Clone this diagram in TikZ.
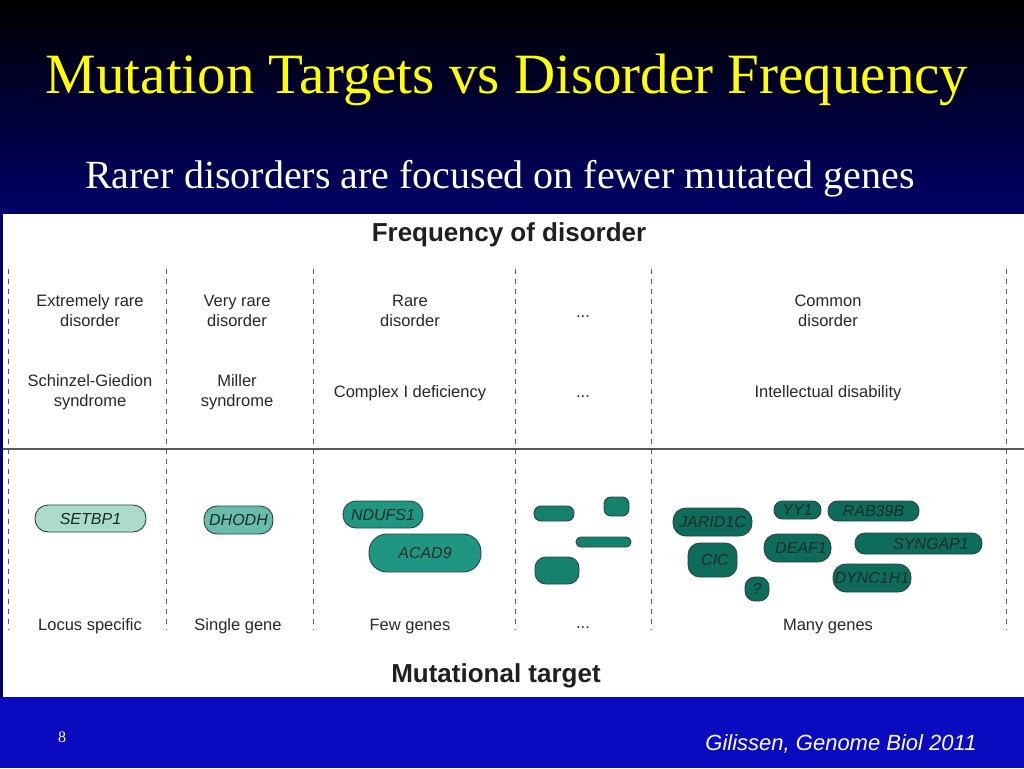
\documentclass[tikz,border=0pt]{standalone}
\usepackage{fontspec}
\setmainfont{Liberation Serif}
\setsansfont{Liberation Sans}
\definecolor{topnavy}{RGB}{0,0,104}
\definecolor{footblue}{RGB}{10,10,192}
\definecolor{titleyellow}{RGB}{255,255,0}
\definecolor{txtgray}{RGB}{40,40,40}
\definecolor{linegray}{RGB}{90,90,90}
\definecolor{pillborder}{RGB}{40,70,64}
\definecolor{genetxt}{RGB}{24,44,40}
\definecolor{gLight}{RGB}{172,218,205}
\definecolor{gMid}{RGB}{106,188,170}
\definecolor{gFew}{RGB}{30,150,130}
\definecolor{gDots}{RGB}{22,128,110}
\definecolor{gMany}{RGB}{14,108,92}
\tikzset{
  lbl/.style={font=\sffamily\fontsize{16.5}{20}\selectfont, text=txtgray, align=center},
  axis/.style={font=\sffamily\bfseries\fontsize{26}{28}\selectfont, text=black!88},
  gene/.style={draw=pillborder, line width=0.9pt, font=\sffamily\itshape\fontsize{16}{16}\selectfont, text=genetxt, inner sep=0pt},
  sep/.style={draw=linegray, line width=0.9pt, dash pattern=on 4.5pt off 5.5pt},
}
\begin{document}
\begin{tikzpicture}[x=1pt,y=-1pt]
\useasboundingbox (0,0) rectangle (1024,768);
% backgrounds
\shade[top color=black, bottom color=topnavy] (0,0) rectangle (1024,214);
\fill[footblue] (0,697) rectangle (1024,768);
\fill[topnavy] (0,213) rectangle (3,698);
\fill[white] (3,214) rectangle (1024,697);
% titles
\node[anchor=base, text=titleyellow, font=\fontsize{57}{60}\selectfont, inner sep=0pt] (title) at (507,93) {Mutation Targets vs Disorder Frequency};
\node[anchor=base, text=white, font=\fontsize{40}{44}\selectfont, inner sep=0pt] (subtitle) at (500,188) {Rarer disorders are focused on fewer mutated genes};
% axis titles
\node[axis, anchor=base, inner sep=0pt] (freq) at (509,241) {Frequency of disorder};
\node[axis, anchor=base, inner sep=0pt] (mut) at (496,682) {Mutational target};
% separators
\foreach \x in {8,166.5,313.5,515.5,651,1006.5}
  \draw[sep] (\x,269) -- (\x,630);
\draw[draw=linegray, line width=1.8pt] (3,449) -- (1024,449);
% row 1
\node[lbl] (r1a) at (90,311) {Extremely rare\\disorder};
\node[lbl] (r1b) at (237,311) {Very rare\\disorder};
\node[lbl] (r1c) at (410,311) {Rare\\disorder};
\node[lbl, anchor=base] (r1d) at (583,317) {...};
\node[lbl] (r1e) at (828,311) {Common\\disorder};
% row 2
\node[lbl] (r2a) at (90,392) {Schinzel-Giedion\\syndrome};
\node[lbl] (r2b) at (237,392) {Miller\\syndrome};
\node[lbl, anchor=base] (r2c) at (410,397) {Complex I deficiency};
\node[lbl, anchor=base] (r2d) at (583,397) {...};
\node[lbl, anchor=base] (r2e) at (828,397) {Intellectual disability};
% bottom row
\node[lbl, anchor=base] (b1) at (90,630) {Locus specific};
\node[lbl, anchor=base] (b2) at (238,630) {Single gene};
\node[lbl, anchor=base] (b3) at (410,630) {Few genes};
\node[lbl, anchor=base] (b4) at (583,628) {...};
\node[lbl, anchor=base] (b5) at (828,630) {Many genes};
% genes
\node[gene, fill=gLight, minimum width=111pt, minimum height=27pt, rounded corners=13pt] (setbp1) at (90.5,518.5) {SETBP1};
\node[gene, fill=gMid, minimum width=69pt, minimum height=28pt, rounded corners=13pt] (dhodh) at (238.5,520) {DHODH};
\node[gene, fill=gFew, minimum width=80pt, minimum height=27pt, rounded corners=13pt] (ndufs1) at (383,514.5) {NDUFS1};
\node[gene, fill=gFew, minimum width=112pt, minimum height=38pt, rounded corners=18pt] (acad9) at (425,553) {ACAD9};
\node[gene, fill=gDots, minimum width=40pt, minimum height=15pt, rounded corners=7pt] (blobA) at (554,513.5) {};
\node[gene, fill=gDots, minimum width=25pt, minimum height=19pt, rounded corners=7pt] (blobB) at (616.5,506.5) {};
\node[gene, fill=gDots, minimum width=55pt, minimum height=10pt, rounded corners=4.8pt] (blobC) at (603.5,542) {};
\node[gene, fill=gDots, minimum width=44pt, minimum height=27pt, rounded corners=11pt] (blobD) at (557,570.5) {};
\node[gene, fill=gMany, minimum width=79pt, minimum height=28pt, rounded corners=13pt] (jarid1c) at (712.5,522) {JARID1C};
\node[gene, fill=gMany, minimum width=49pt, minimum height=34pt, rounded corners=12pt] (cic) at (712.5,560) {\hspace{5pt}CIC};
\node[gene, fill=gMany, minimum width=47pt, minimum height=18pt, rounded corners=8.5pt] (yy1) at (797.5,510) {YY1};
\node[gene, fill=gMany, minimum width=91pt, minimum height=20pt, rounded corners=9.5pt] (rab39b) at (873.5,511) {RAB39B};
\node[gene, fill=gMany, minimum width=67pt, minimum height=28pt, rounded corners=13pt] (deaf1) at (797.5,548) {\hspace{7pt}DEAF1};
\node[gene, fill=gMany, minimum width=127pt, minimum height=21pt, rounded corners=10pt] (syngap1) at (918.5,543.5) {\hspace{25pt}SYNGAP1};
\node[gene, fill=gMany, minimum width=78pt, minimum height=28pt, rounded corners=13pt] (dync1h1) at (872,578) {DYNC1H1};
\node[gene, fill=gMany, minimum width=24pt, minimum height=24pt, rounded corners=10pt] (unk) at (757,589) {?};
% footer
\node[anchor=base, text=white, font=\fontsize{16}{18}\selectfont, inner sep=0pt] (pagenum) at (62,742) {8};
\node[anchor=base, text=white, font=\sffamily\itshape\fontsize{22}{24}\selectfont, inner sep=0pt] (cite) at (841,750) {Gilissen, Genome Biol 2011};
\end{tikzpicture}
\end{document}
